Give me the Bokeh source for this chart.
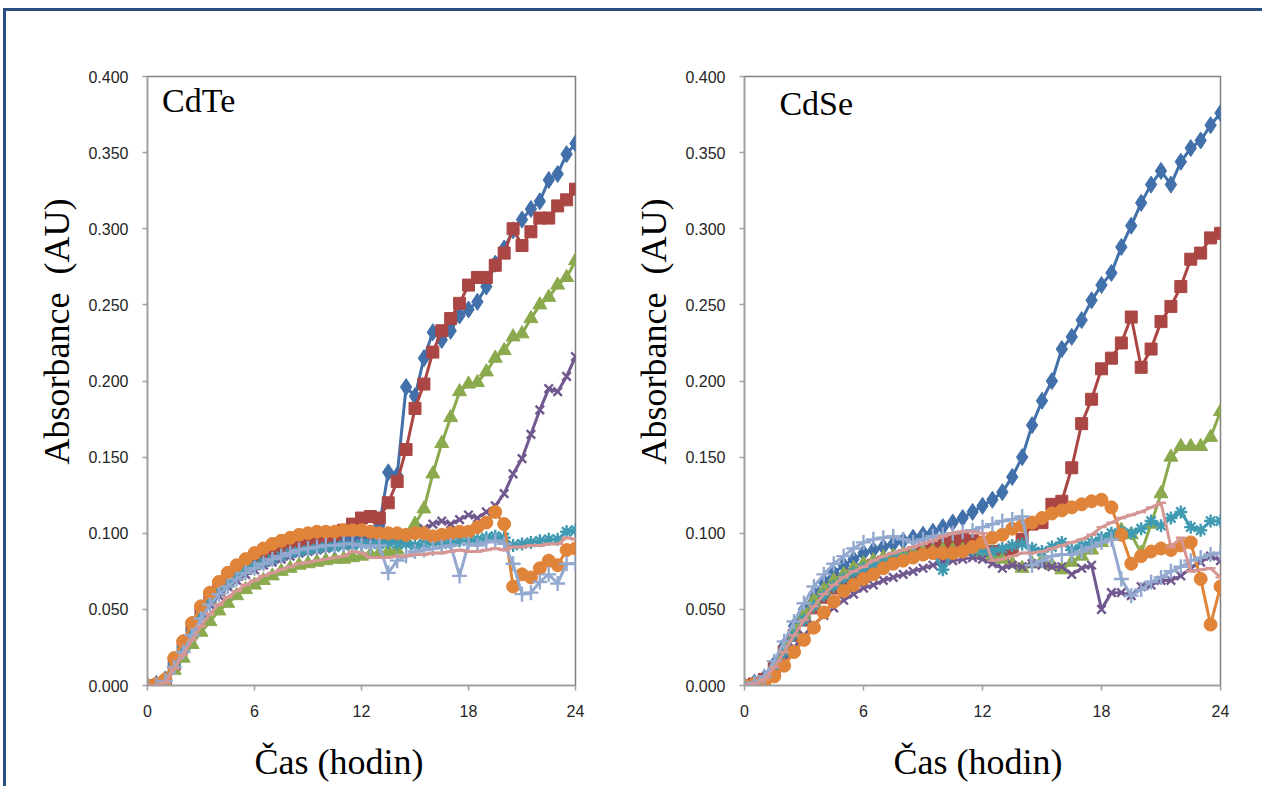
from bokeh.plotting import figure
from bokeh.layouts import row
from bokeh.models import Range1d, FixedTicker, PrintfTickFormatter, Label
from bokeh.embed import file_html
from bokeh.resources import INLINE

# ---------------- data ----------------
hours = [0.0, 0.5, 1.0, 1.5, 2.0, 2.5, 3.0, 3.5, 4.0, 4.5, 5.0, 5.5, 6.0, 6.5, 7.0, 7.5,
         8.0, 8.5, 9.0, 9.5, 10.0, 10.5, 11.0, 11.5, 12.0, 12.5, 13.0, 13.5, 14.0, 14.5,
         15.0, 15.5, 16.0, 16.5, 17.0, 17.5, 18.0, 18.5, 19.0, 19.5, 20.0, 20.5, 21.0,
         21.5, 22.0, 22.5, 23.0, 23.5, 24.0]

x_ticks = [0, 6, 12, 18, 24]
y_ticks = [0.0, 0.05, 0.10, 0.15, 0.20, 0.25, 0.30, 0.35, 0.40]

panel_titles = ["CdTe", "CdSe"]
x_title = "Čas (hodin)"
y_title = "Absorbance\u00a0 (AU)"

# CdTe panel
cdte_1 = [0.000, 0.001, 0.004, 0.016, 0.028, 0.040, 0.050, 0.058, 0.065, 0.070, 0.075, 0.079, 0.082, 0.084,
          0.086, 0.088, 0.089, 0.090, 0.091, 0.092, 0.093, 0.094, 0.095, 0.096, 0.097, 0.100, 0.105, 0.140,
          0.138, 0.196, 0.190, 0.215, 0.232, 0.227, 0.233, 0.243, 0.247, 0.252, 0.262, 0.277, 0.287, 0.299,
          0.306, 0.313, 0.318, 0.332, 0.336, 0.349, 0.356]
cdte_2 = [0.000, 0.000, 0.002, 0.014, 0.026, 0.038, 0.048, 0.057, 0.063, 0.069, 0.073, 0.077, 0.080, 0.083,
          0.085, 0.087, 0.089, 0.091, 0.093, 0.095, 0.097, 0.099, 0.102, 0.106, 0.110, 0.111, 0.110, 0.120,
          0.134, 0.155, 0.182, 0.198, 0.219, 0.233, 0.241, 0.251, 0.263, 0.268, 0.268, 0.276, 0.284, 0.300,
          0.289, 0.298, 0.307, 0.307, 0.315, 0.319, 0.326]
cdte_3 = [0.000, 0.000, 0.002, 0.010, 0.018, 0.027, 0.035, 0.042, 0.049, 0.054, 0.059, 0.063, 0.066, 0.069,
          0.072, 0.075, 0.077, 0.079, 0.080, 0.081, 0.082, 0.083, 0.083, 0.084, 0.085, 0.086, 0.087, 0.088,
          0.089, 0.095, 0.106, 0.116, 0.139, 0.159, 0.176, 0.193, 0.198, 0.199, 0.206, 0.215, 0.220, 0.229,
          0.231, 0.241, 0.250, 0.255, 0.263, 0.268, 0.279]
cdte_4 = [0.000, 0.000, 0.002, 0.013, 0.024, 0.035, 0.045, 0.053, 0.059, 0.065, 0.069, 0.073, 0.076, 0.079,
          0.081, 0.083, 0.085, 0.087, 0.088, 0.089, 0.090, 0.091, 0.092, 0.093, 0.094, 0.095, 0.095, 0.096,
          0.097, 0.098, 0.100, 0.103, 0.106, 0.108, 0.106, 0.109, 0.112, 0.110, 0.114, 0.118, 0.126, 0.139,
          0.149, 0.165, 0.181, 0.195, 0.193, 0.203, 0.216]
cdte_5 = [0.000, 0.001, 0.003, 0.014, 0.025, 0.036, 0.046, 0.055, 0.062, 0.067, 0.072, 0.076, 0.079, 0.081,
          0.083, 0.085, 0.087, 0.088, 0.089, 0.090, 0.091, 0.091, 0.092, 0.092, 0.093, 0.093, 0.093, 0.094,
          0.093, 0.093, 0.092, 0.093, 0.094, 0.093, 0.094, 0.095, 0.095, 0.096, 0.097, 0.098, 0.097, 0.092,
          0.093, 0.094, 0.095, 0.096, 0.096, 0.101, 0.102]
cdte_6 = [0.000, 0.001, 0.004, 0.018, 0.029, 0.041, 0.052, 0.061, 0.068, 0.074, 0.079, 0.083, 0.087, 0.090,
          0.093, 0.095, 0.097, 0.099, 0.100, 0.101, 0.101, 0.101, 0.102, 0.102, 0.102, 0.101, 0.100, 0.100,
          0.100, 0.099, 0.100, 0.100, 0.098, 0.099, 0.100, 0.101, 0.101, 0.104, 0.107, 0.114, 0.106, 0.065,
          0.073, 0.071, 0.077, 0.082, 0.079, 0.089, 0.090]
cdte_7 = [0.000, 0.000, 0.003, 0.012, 0.022, 0.033, 0.044, 0.053, 0.060, 0.065, 0.070, 0.074, 0.077, 0.080,
          0.083, 0.085, 0.087, 0.089, 0.090, 0.091, 0.092, 0.092, 0.093, 0.093, 0.092, 0.091, 0.092, 0.074,
          0.082, 0.085, 0.088, 0.089, 0.090, 0.091, 0.092, 0.072, 0.093, 0.092, 0.094, 0.095, 0.093, 0.080,
          0.060, 0.061, 0.068, 0.073, 0.067, 0.080, 0.080]
cdte_8 = [0.000, 0.000, 0.002, 0.011, 0.020, 0.030, 0.039, 0.047, 0.053, 0.058, 0.062, 0.066, 0.069, 0.072,
          0.074, 0.076, 0.078, 0.080, 0.081, 0.082, 0.083, 0.084, 0.085, 0.088, 0.087, 0.084, 0.084, 0.084,
          0.085, 0.085, 0.086, 0.086, 0.087, 0.087, 0.088, 0.089, 0.088, 0.088, 0.089, 0.090, 0.089, 0.091,
          0.091, 0.092, 0.092, 0.093, 0.093, 0.097, 0.096]

# CdSe panel
cdse_1 = [0.000, 0.002, 0.005, 0.014, 0.026, 0.039, 0.050, 0.060, 0.068, 0.074, 0.079, 0.083, 0.087, 0.089,
          0.091, 0.093, 0.095, 0.097, 0.099, 0.101, 0.104, 0.107, 0.110, 0.114, 0.118, 0.122, 0.127, 0.137,
          0.150, 0.171, 0.187, 0.200, 0.221, 0.229, 0.240, 0.253, 0.263, 0.271, 0.288, 0.302, 0.317, 0.329,
          0.338, 0.329, 0.344, 0.353, 0.358, 0.368, 0.376]
cdse_2 = [0.000, 0.001, 0.004, 0.011, 0.022, 0.033, 0.043, 0.051, 0.058, 0.064, 0.069, 0.073, 0.076, 0.079,
          0.081, 0.083, 0.085, 0.087, 0.089, 0.091, 0.094, 0.095, 0.096, 0.095, 0.094, 0.088, 0.086, 0.089,
          0.096, 0.106, 0.107, 0.119, 0.121, 0.143, 0.172, 0.188, 0.208, 0.215, 0.225, 0.242, 0.209, 0.221,
          0.239, 0.249, 0.262, 0.280, 0.284, 0.294, 0.297]
cdse_3 = [0.000, 0.001, 0.003, 0.012, 0.024, 0.036, 0.047, 0.056, 0.063, 0.069, 0.073, 0.077, 0.080, 0.082,
          0.084, 0.085, 0.086, 0.087, 0.088, 0.088, 0.089, 0.089, 0.089, 0.088, 0.087, 0.085, 0.083, 0.080,
          0.077, 0.080, 0.082, 0.079, 0.076, 0.081, 0.085, 0.089, 0.094, 0.098, 0.102, 0.099, 0.087, 0.106,
          0.126, 0.150, 0.157, 0.157, 0.157, 0.163, 0.180]
cdse_4 = [0.000, 0.000, 0.002, 0.008, 0.016, 0.025, 0.033, 0.040, 0.046, 0.051, 0.056, 0.060, 0.064, 0.066,
          0.069, 0.071, 0.073, 0.075, 0.077, 0.079, 0.081, 0.082, 0.083, 0.084, 0.083, 0.080, 0.077, 0.079,
          0.078, 0.080, 0.079, 0.078, 0.078, 0.073, 0.077, 0.079, 0.050, 0.061, 0.061, 0.059, 0.065, 0.066,
          0.069, 0.069, 0.072, 0.077, 0.081, 0.085, 0.082]
cdse_5 = [0.000, 0.001, 0.003, 0.011, 0.022, 0.033, 0.043, 0.052, 0.059, 0.065, 0.070, 0.074, 0.077, 0.079,
          0.081, 0.083, 0.084, 0.085, 0.086, 0.087, 0.076, 0.087, 0.088, 0.089, 0.089, 0.088, 0.090, 0.092,
          0.093, 0.090, 0.088, 0.091, 0.094, 0.089, 0.092, 0.094, 0.097, 0.100, 0.101, 0.100, 0.103, 0.108,
          0.105, 0.110, 0.114, 0.104, 0.102, 0.108, 0.108]
cdse_6 = [0.000, 0.001, 0.002, 0.006, 0.013, 0.022, 0.030, 0.038, 0.048, 0.055, 0.062, 0.066, 0.070, 0.073,
          0.077, 0.080, 0.082, 0.084, 0.086, 0.087, 0.087, 0.087, 0.088, 0.091, 0.094, 0.097, 0.099, 0.103,
          0.105, 0.107, 0.110, 0.113, 0.115, 0.117, 0.119, 0.121, 0.122, 0.117, 0.099, 0.080, 0.085, 0.088,
          0.090, 0.089, 0.092, 0.094, 0.070, 0.040, 0.065]
cdse_7 = [0.000, 0.002, 0.006, 0.016, 0.029, 0.042, 0.054, 0.065, 0.073, 0.080, 0.085, 0.090, 0.094, 0.096,
          0.097, 0.098, 0.096, 0.094, 0.096, 0.098, 0.099, 0.100, 0.101, 0.102, 0.104, 0.106, 0.108, 0.109,
          0.111, 0.079, 0.082, 0.085, 0.086, 0.086, 0.088, 0.091, 0.094, 0.096, 0.070, 0.059, 0.063, 0.068,
          0.071, 0.075, 0.078, 0.082, 0.084, 0.086, 0.087]
cdse_8 = [0.000, 0.001, 0.004, 0.012, 0.022, 0.033, 0.043, 0.052, 0.060, 0.066, 0.071, 0.075, 0.078, 0.082,
          0.085, 0.087, 0.089, 0.091, 0.093, 0.095, 0.098, 0.100, 0.101, 0.101, 0.100, 0.082, 0.083, 0.085,
          0.087, 0.087, 0.088, 0.090, 0.092, 0.094, 0.096, 0.099, 0.104, 0.107, 0.110, 0.112, 0.114, 0.117,
          0.120, 0.091, 0.097, 0.075, 0.076, 0.077, 0.071]

cdte_series = [cdte_1, cdte_2, cdte_3, cdte_4, cdte_5, cdte_6, cdte_7, cdte_8]
cdse_series = [cdse_1, cdse_2, cdse_3, cdse_4, cdse_5, cdse_6, cdse_7, cdse_8]

# ---------------- styles ----------------
COLORS = ["#4170AA", "#AA4643", "#8BAA4E", "#71588F", "#3F9AB2", "#E0843A", "#93A9CF", "#D59694"]
MARKERS = ["diamond", "square", "triangle", "x", "asterisk", "circle", "cross", "dash"]
SIZES = [17, 12, 14, 12, 13, 13, 15, 10]
LINE_MARKERS = {"x", "asterisk", "cross", "dash"}

SERIF = "Liberation Serif"
SANS = "Liberation Sans"
AXIS_GRAY = "#A0A0A0"
FRAME_GRAY = "#808080"
NBSP = "\u00a0"


def make_panel(title, series, width, height, mb_left, mb_right, mb_top, mb_bottom,
               title_x, title_y, x_pad, y_pad):
    p = figure(width=width, height=height, output_backend="svg", toolbar_location=None,
               x_range=Range1d(0, 24), y_range=Range1d(0, 0.4))
    p.min_border_left = mb_left
    p.min_border_right = mb_right
    p.min_border_top = mb_top
    p.min_border_bottom = mb_bottom
    p.background_fill_color = "white"
    p.border_fill_color = "white"
    p.outline_line_color = FRAME_GRAY
    p.outline_line_width = 1.5
    p.xgrid.grid_line_color = None
    p.ygrid.grid_line_color = None

    p.xaxis.ticker = FixedTicker(ticks=x_ticks)
    p.yaxis.ticker = FixedTicker(ticks=y_ticks)
    p.yaxis.formatter = PrintfTickFormatter(format="%.3f")
    for ax in (p.xaxis, p.yaxis):
        ax.axis_line_color = AXIS_GRAY
        ax.axis_line_width = 1.5
        ax.major_tick_line_color = AXIS_GRAY
        ax.major_tick_line_width = 1.5
        ax.major_tick_in = 0
        ax.major_tick_out = 5
        ax.minor_tick_line_color = None
        ax.major_label_text_font = SANS
        ax.major_label_text_font_size = "16px"
        ax.major_label_text_color = "#262626"
        ax.axis_label_text_font = SERIF
        ax.axis_label_text_font_style = "normal"
        ax.axis_label_text_font_size = "36px"
        ax.axis_label_text_color = "black"
    # padding with non-breaking spaces shifts the centred titles like in the original
    p.xaxis.axis_label = x_title + NBSP * x_pad
    p.yaxis.axis_label = NBSP * y_pad + y_title
    p.yaxis.major_label_standoff = 14
    p.yaxis.axis_label_standoff = 8
    p.xaxis.major_label_standoff = 14
    p.xaxis.axis_label_standoff = 22

    for vals, color, marker, size in zip(series, COLORS, MARKERS, SIZES):
        p.line(hours, vals, line_color=color, line_width=3)
        if marker in LINE_MARKERS:
            p.scatter(hours, vals, marker=marker, size=size, line_color=color, line_width=2.4,
                      fill_color=color)
        else:
            p.scatter(hours, vals, marker=marker, size=size, line_color=color, fill_color=color)

    p.add_layout(Label(x=title_x, y=title_y, text=title, text_font=SERIF, text_font_size="34px",
                       text_color="black", text_baseline="alphabetic", text_align="left"))
    return p


p1 = make_panel(panel_titles[0], cdte_series, 624, 775, 141, 55, 65, 101, 0.82, 0.3845, 5, 11)
p2 = make_panel(panel_titles[1], cdse_series, 632, 775, 114, 42, 64, 96, 1.76, 0.382, 1, 11)

layout = row(p1, p2, margin=(8, 0, 0, 3),
             styles={"border-left": "3px solid #2B4E80", "border-top": "3px solid #2B4E80"})

open("out.html", "w").write(file_html(layout, INLINE))
